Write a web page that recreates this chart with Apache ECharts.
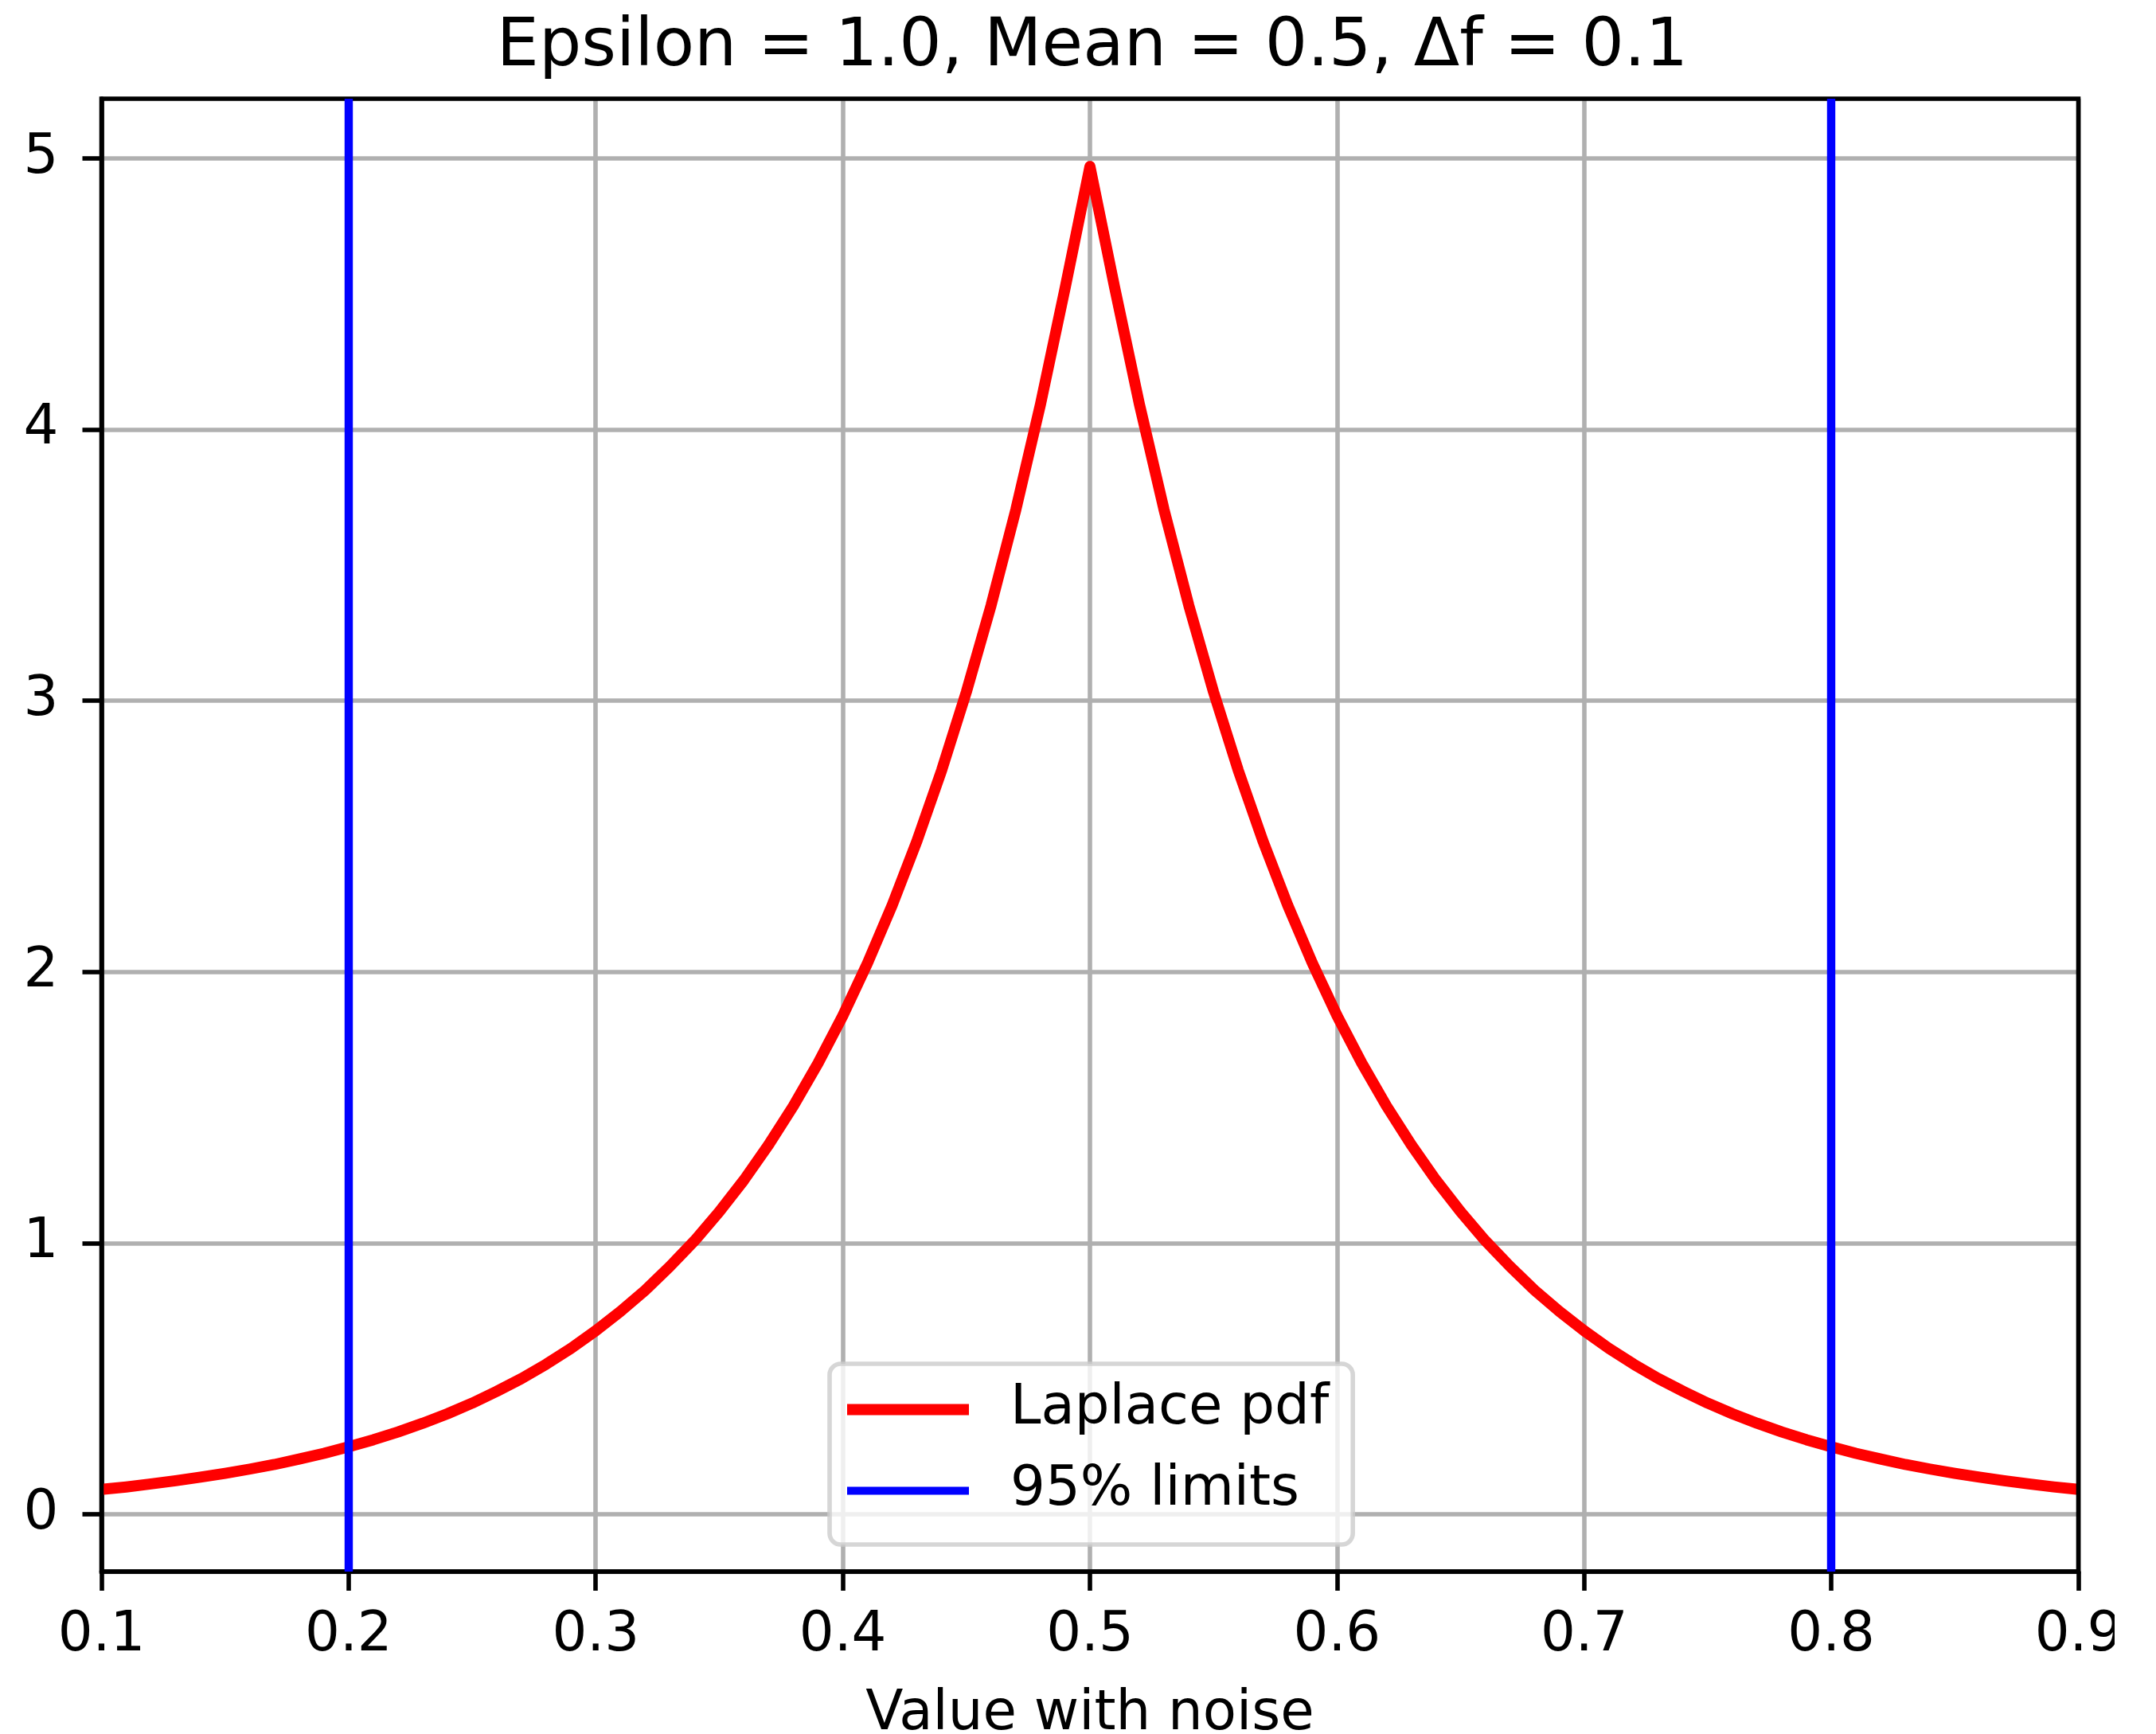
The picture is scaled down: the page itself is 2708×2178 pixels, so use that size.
<!DOCTYPE html>
<html>
<head>
<meta charset="utf-8">
<title>Laplace pdf</title>
<script src="https://cdn.jsdelivr.net/npm/echarts@6/dist/echarts.min.js"></script>
<style>
  html, body { margin: 0; padding: 0; background: #fff; }
  #chart { width: 2656px; height: 2178px; }
</style>
</head>
<body>
<div id="chart"></div>
<script>
// values
const titleText = 'Epsilon = 1.0, Mean = 0.5, \u0394f = 0.1'
const xName = 'Value with noise'

const xValues = [
  0.10, 0.11, 0.12, 0.13, 0.14, 0.15, 0.16, 0.17, 0.18, 0.19,
  0.20, 0.21, 0.22, 0.23, 0.24, 0.25, 0.26, 0.27, 0.28, 0.29,
  0.30, 0.31, 0.32, 0.33, 0.34, 0.35, 0.36, 0.37, 0.38, 0.39,
  0.40, 0.41, 0.42, 0.43, 0.44, 0.45, 0.46, 0.47, 0.48, 0.49,
  0.50,
  0.51, 0.52, 0.53, 0.54, 0.55, 0.56, 0.57, 0.58, 0.59, 0.60,
  0.61, 0.62, 0.63, 0.64, 0.65, 0.66, 0.67, 0.68, 0.69, 0.70,
  0.71, 0.72, 0.73, 0.74, 0.75, 0.76, 0.77, 0.78, 0.79, 0.80,
  0.81, 0.82, 0.83, 0.84, 0.85, 0.86, 0.87, 0.88, 0.89, 0.90,
]

const pdfValues = [
  0.092, 0.101, 0.112, 0.124, 0.137, 0.151, 0.167, 0.184, 0.204, 0.225,
  0.249, 0.275, 0.304, 0.336, 0.371, 0.410, 0.454, 0.501, 0.554, 0.612,
  0.677, 0.748, 0.826, 0.914, 1.009, 1.116, 1.233, 1.363, 1.506, 1.664,
  1.839, 2.033, 2.247, 2.483, 2.744, 3.033, 3.352, 3.704, 4.094, 4.524,
  4.97,
  4.524, 4.094, 3.704, 3.352, 3.033, 2.744, 2.483, 2.247, 2.033, 1.839,
  1.664, 1.506, 1.363, 1.233, 1.116, 1.009, 0.914, 0.826, 0.748, 0.677,
  0.612, 0.554, 0.501, 0.454, 0.410, 0.371, 0.336, 0.304, 0.275, 0.249,
  0.225, 0.204, 0.184, 0.167, 0.151, 0.137, 0.124, 0.112, 0.101, 0.092,
]

// 95% limits (vertical lines)
const limits = [0.2, 0.8]

// tick labels
const xTicks = [0.1, 0.2, 0.3, 0.4, 0.5, 0.6, 0.7, 0.8, 0.9]
const yTicks = [0, 1, 2, 3, 4, 5]

const font = 'DejaVu Sans'
const gridStyle = { color: '#b0b0b0', width: 5.6 }

const myChart = echarts.init(document.getElementById('chart'))

const option = {
  animation: false,
  backgroundColor: '#fff',
  title: {
    text: titleText,
    left: 1367,
    top: 13,
    textAlign: 'center',
    textStyle: { fontFamily: font, fontSize: 84, fontWeight: 'normal', color: '#000' },
  },
  grid: {
    left: 127.5,
    right: 45.5,
    top: 124,
    bottom: 204,
    show: true,
    borderColor: '#000',
    borderWidth: 5.6,
    backgroundColor: 'transparent',
    containLabel: false,
    outerBoundsMode: 'none',
    z: 3,
  },
  legend: {
    orient: 'vertical',
    left: 1042,
    top: 1713,
    padding: [20, 30, 30, 22],
    itemWidth: 153,
    itemHeight: 14,
    itemGap: 27,
    selectedMode: false,
    backgroundColor: 'rgba(255,255,255,0.8)',
    borderColor: 'rgba(204,204,204,0.8)',
    borderWidth: 5.6,
    borderRadius: 14,
    textStyle: {
      fontFamily: font,
      fontSize: 69,
      lineHeight: 69,
      color: '#000',
      padding: [6, 0, 0, 47],
    },
    data: [
      { name: 'Laplace pdf', icon: 'path://M0 0H153V14H0Z' },
      { name: '95% limits', icon: 'path://M0 0H153V10H0Z' },
    ],
  },
  xAxis: {
    type: 'value',
    min: 0.1,
    max: 0.9,
    name: xName,
    nameLocation: 'middle',
    nameGap: 146,
    nameTextStyle: { fontFamily: font, fontSize: 69, color: '#000' },
    axisLine: { show: true, onZero: false, lineStyle: { color: '#000', width: 5.6 } },
    axisTick: { show: true, length: 24, lineStyle: { color: '#000', width: 5.6 }, customValues: xTicks },
    axisLabel: {
      margin: 47,
      fontFamily: font,
      fontSize: 69,
      color: '#000',
      customValues: xTicks,
      formatter: v => v.toFixed(1),
    },
    splitLine: { show: true, lineStyle: gridStyle },
  },
  yAxis: {
    type: 'value',
    min: -0.211,
    max: 5.22,
    axisLine: { show: true, onZero: false, lineStyle: { color: '#000', width: 5.6 } },
    axisTick: { show: true, length: 24, lineStyle: { color: '#000', width: 5.6 }, customValues: yTicks },
    axisLabel: {
      margin: 54,
      fontFamily: font,
      fontSize: 69,
      color: '#000',
      customValues: yTicks,
      formatter: v => String(v),
    },
    splitLine: { show: true, lineStyle: gridStyle },
  },
  series: [
    {
      name: 'Laplace pdf',
      type: 'line',
      color: 'red',
      showSymbol: false,
      symbol: 'none',
      lineStyle: { color: 'red', width: 13.9, join: 'round' },
      data: xValues.map((x, i) => [x, pdfValues[i]]),
      z: 2,
    },
    {
      name: '95% limits',
      type: 'line',
      color: 'blue',
      data: [],
      lineStyle: { color: 'blue', width: 10.4 },
      markLine: {
        silent: true,
        symbol: 'none',
        label: { show: false },
        lineStyle: { color: 'blue', width: 10.4, type: 'solid' },
        data: limits.map(v => ({ xAxis: v })),
      },
      z: 2,
    },
  ],
}

myChart.setOption(option)
</script>
</body>
</html>
